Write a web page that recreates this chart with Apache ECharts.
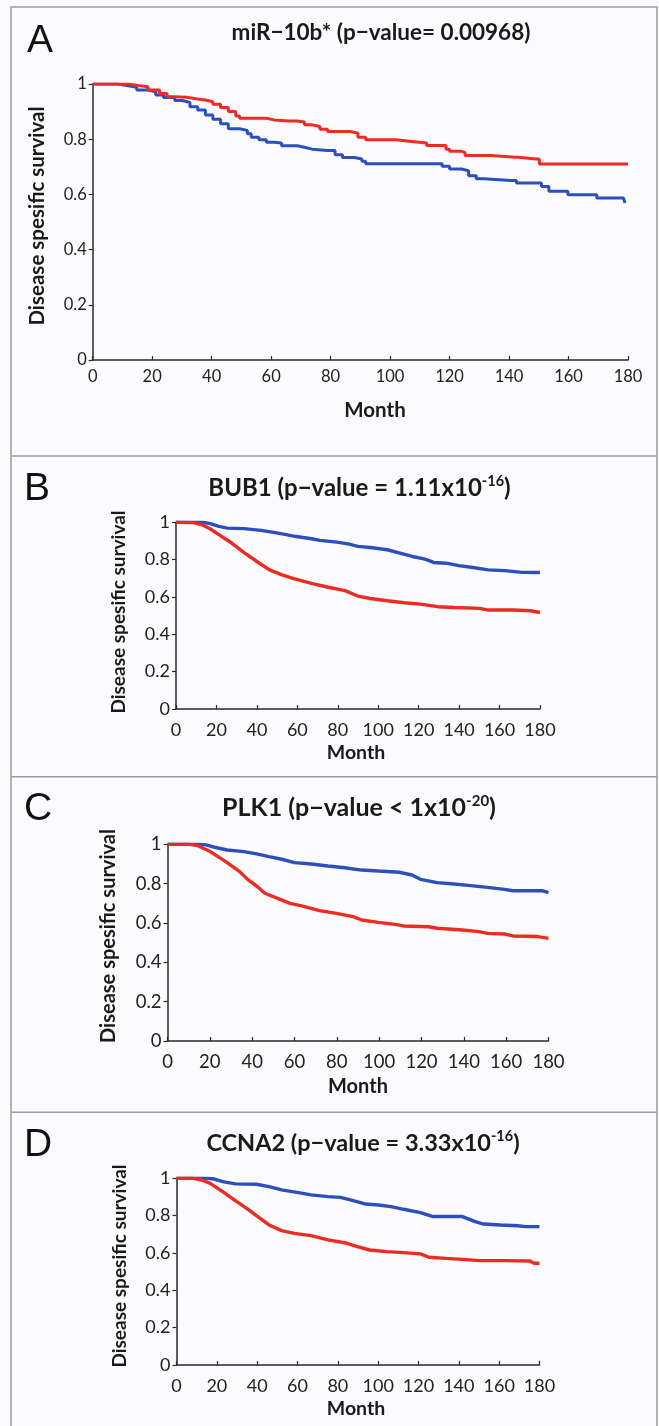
<!DOCTYPE html>
<html>
<head>
<meta charset="utf-8">
<script src="https://cdn.jsdelivr.net/npm/echarts@6/dist/echarts.min.js"></script>
<style>
html,body{margin:0;padding:0;background:#fbfbfd;}
#c{width:659px;height:1426px;}
</style>
</head>
<body>
<div id="c"></div>
<script>
// ---- Tick labels ----
const xTicks = [0, 20, 40, 60, 80, 100, 120, 140, 160, 180];
const yTicks = [0, 0.2, 0.4, 0.6, 0.8, 1];

// ---- Panel A: miR-10b* ----
const monthsA_red = [0, 12, 15, 18.6, 22.5, 25, 27.6, 31.5, 35.3, 37.9, 40.4, 43, 45.6, 48.1, 49.4, 54.6, 58.4, 61, 66, 68.7, 71.2, 73.8, 76.4, 79, 84, 86.7, 89.2, 91.8, 99.5, 102, 107.2, 112.3, 117.5, 118.8, 120, 124, 125.2, 133, 134, 142, 143, 149, 150.2, 180];
const survA_red = [1, 0.995, 0.99, 0.978, 0.966, 0.954, 0.952, 0.946, 0.942, 0.936, 0.927, 0.915, 0.9, 0.884, 0.876, 0.876, 0.870, 0.866, 0.866, 0.862, 0.852, 0.846, 0.836, 0.828, 0.828, 0.822, 0.807, 0.798, 0.798, 0.792, 0.786, 0.777, 0.777, 0.764, 0.756, 0.752, 0.741, 0.741, 0.735, 0.735, 0.728, 0.728, 0.71, 0.71];
const monthsA_blue = [0, 6, 8.3, 11, 14.8, 18.6, 21.2, 23.8, 27.6, 30.2, 32.7, 35.3, 37.9, 40.4, 43, 45.6, 49.4, 52, 53.3, 55.9, 58.4, 61, 63.5, 68.7, 71.2, 73.8, 79, 81.5, 84, 88, 90.5, 91.8, 114.3, 117.5, 120, 124, 126.4, 129, 131.6, 140.6, 142.5, 148.3, 150.9, 153.4, 158.5, 159.8, 168.2, 169.5, 178.5, 179];
const survA_blue = [1, 1, 0.995, 0.988, 0.978, 0.972, 0.96, 0.951, 0.94, 0.933, 0.918, 0.906, 0.888, 0.872, 0.856, 0.838, 0.832, 0.82, 0.807, 0.798, 0.789, 0.786, 0.776, 0.771, 0.764, 0.759, 0.759, 0.744, 0.734, 0.728, 0.72, 0.711, 0.711, 0.702, 0.692, 0.686, 0.668, 0.657, 0.65, 0.65, 0.641, 0.641, 0.629, 0.611, 0.611, 0.599, 0.599, 0.587, 0.587, 0.569];

// ---- Panel B: BUB1 ----
const monthsB_blue = [0, 12.9, 17, 21.2, 25.4, 33.7, 42, 48.3, 54.5, 58.7, 67, 71.2, 79.5, 85.7, 89.9, 96.1, 104.5, 110.7, 116.9, 123.2, 127.4, 133.6, 139.8, 146, 154.4, 162.7, 171, 180];
const survB_blue = [1, 1, 0.993, 0.978, 0.969, 0.966, 0.957, 0.946, 0.934, 0.925, 0.912, 0.903, 0.894, 0.883, 0.871, 0.865, 0.853, 0.835, 0.817, 0.803, 0.785, 0.781, 0.768, 0.759, 0.745, 0.741, 0.732, 0.731];
const monthsB_red = [0, 8.7, 12.9, 17, 21.2, 27.5, 33.7, 40, 46.2, 52.4, 58.7, 67, 75.3, 83.6, 89.9, 96.1, 104.5, 112.8, 121, 129.4, 137.7, 150.2, 154.4, 166.9, 175.2, 180];
const survB_red = [1, 0.998, 0.987, 0.964, 0.934, 0.889, 0.838, 0.79, 0.745, 0.718, 0.697, 0.673, 0.652, 0.634, 0.605, 0.592, 0.58, 0.569, 0.562, 0.548, 0.544, 0.539, 0.53, 0.53, 0.526, 0.517];

// ---- Panel C: PLK1 ----
const monthsC_blue = [0, 14.3, 18.3, 22.2, 28.2, 36.1, 42.1, 48, 54, 60, 67.9, 75.8, 83.7, 91.7, 99.6, 109.5, 115.5, 119.5, 127.4, 135.3, 143.3, 151.2, 159.2, 163.2, 177, 180];
const survC_blue = [1, 1, 0.997, 0.985, 0.971, 0.963, 0.951, 0.937, 0.924, 0.907, 0.9, 0.89, 0.881, 0.869, 0.864, 0.858, 0.844, 0.822, 0.805, 0.798, 0.79, 0.781, 0.771, 0.764, 0.764, 0.754];
const monthsC_red = [0, 10.3, 14.3, 20.2, 28.2, 34.1, 38.1, 42.1, 46, 52, 57.9, 63.9, 71.8, 79.8, 87.7, 91.7, 99.6, 107.5, 111.5, 123.4, 127.4, 139.3, 147.2, 151.2, 159.2, 163.2, 175, 180];
const survC_red = [1, 1, 0.993, 0.963, 0.907, 0.861, 0.819, 0.788, 0.751, 0.725, 0.7, 0.686, 0.663, 0.649, 0.632, 0.615, 0.603, 0.593, 0.585, 0.581, 0.573, 0.564, 0.556, 0.547, 0.544, 0.534, 0.531, 0.522];

// ---- Panel D: CCNA2 ----
const monthsD_blue = [0, 14.6, 18.8, 22.9, 29.2, 39.6, 45.9, 52.1, 60.5, 66.7, 75.1, 81.3, 87.6, 93.9, 100.1, 106.4, 112.6, 121, 127.2, 141.8, 148.1, 152.3, 160.6, 169, 173.1, 180];
const survD_blue = [1, 1, 0.996, 0.982, 0.97, 0.968, 0.955, 0.938, 0.923, 0.911, 0.902, 0.898, 0.88, 0.862, 0.857, 0.848, 0.834, 0.816, 0.795, 0.795, 0.768, 0.755, 0.75, 0.746, 0.741, 0.741];
const monthsD_red = [0, 8.3, 12.5, 16.7, 22.9, 29.2, 35.5, 39.6, 45.9, 52.1, 58.4, 66.7, 75.1, 83.4, 89.7, 95.9, 104.3, 112.6, 121, 125.2, 133.5, 141.8, 150.2, 162.7, 175.2, 177.3, 180];
const survD_red = [1, 1, 0.991, 0.973, 0.929, 0.88, 0.834, 0.8, 0.75, 0.72, 0.705, 0.693, 0.67, 0.655, 0.634, 0.616, 0.607, 0.602, 0.595, 0.577, 0.571, 0.566, 0.559, 0.559, 0.557, 0.545, 0.545];

// ---- Texts ----
const panelLetters = ['A', 'B', 'C', 'D'];
const titleA = 'miR\u221210b* (p\u2212value= 0.00968)';
const titleB = ['BUB1 (p\u2212value = 1.11x10', '-16', ')'];
const titleC = ['PLK1 (p\u2212value < 1x10', '-20', ')'];
const titleD = ['CCNA2 (p\u2212value = 3.33x10', '-16', ')'];
const yName = 'Disease spesific survival';
const xName = 'Month';

// ---- Layout (styling, not data) ----
const RED = '#ee2b23', BLUE = '#2d4fbe';
const grids = [
  {left: 92.7, top: 84, width: 535.3, height: 276},
  {left: 176, top: 522.3, width: 364, height: 186.7},
  {left: 167.5, top: 844.3, width: 381, height: 196.7},
  {left: 176.5, top: 1178.3, width: 363, height: 186.7}
];
const tickFont = [16.5, 18, 18.5, 18];
const pairs = (xs, ys) => xs.map((x, i) => [x, ys[i]]);
const seriesData = [
  [pairs(monthsA_red, survA_red), pairs(monthsA_blue, survA_blue)],
  [pairs(monthsB_red, survB_red), pairs(monthsB_blue, survB_blue)],
  [pairs(monthsC_red, survC_red), pairs(monthsC_blue, survC_blue)],
  [pairs(monthsD_red, survD_red), pairs(monthsD_blue, survD_blue)]
];

const xAxes = [], yAxes = [], series = [];
grids.forEach((g, i) => {
  xAxes.push({
    type: 'value', gridIndex: i, min: xTicks[0], max: xTicks[xTicks.length - 1], interval: xTicks[1] - xTicks[0],
    axisLine: {show: true, lineStyle: {color: '#2a2a2a', width: 1.5}},
    axisTick: {show: true, inside: true, length: 4, lineStyle: {color: '#2a2a2a', width: 1.2}},
    axisLabel: {color: '#222', fontFamily: 'Lato', fontSize: tickFont[i], margin: i === 0 ? 8 : 12},
    splitLine: {show: false}
  });
  yAxes.push({
    type: 'value', gridIndex: i, min: yTicks[0], max: yTicks[yTicks.length - 1], interval: yTicks[1] - yTicks[0],
    axisLine: {show: true, lineStyle: {color: '#2a2a2a', width: 1.5}},
    axisTick: {show: true, inside: false, length: 4, lineStyle: {color: '#2a2a2a', width: 1.2}},
    axisLabel: {color: '#222', fontFamily: 'Lato', fontSize: tickFont[i], margin: 6},
    splitLine: {show: false}
  });
  const step = i === 0 ? 'end' : false;
  [RED, BLUE].forEach((col, k) => {
    series.push({
      type: 'line', xAxisIndex: i, yAxisIndex: i, data: seriesData[i][k], step: step,
      showSymbol: false, symbol: 'none', silent: true, animation: false,
      lineStyle: {color: col, width: i === 0 ? 3 : 3.4}, z: k === 0 ? 3 : 2
    });
  });
});

const letterPos = [[27, 41], [24, 489], [24, 809], [24, 1145]];
const titlePos = [[381, 33], [359.5, 488], [359, 808], [363, 1143]];
const yNamePos = [[37, 216], [119, 612], [109, 936], [120, 1266]];
const xNamePos = [[375, 410], [356, 752.7], [358, 1086.7], [356, 1408.3]];
const titleSize = [22.5, 24, 25, 23.5];
const supSize = [0, 14.5, 15, 14.5];
const yNameSize = [20.5, 19, 20, 19];
const xNameSize = [20.5, 19.5, 20, 19.5];

const graphic = [];
graphic.push({type: 'rect', shape: {x: 11, y: 7, width: 646, height: 1440}, style: {fill: null, stroke: '#9c9c9c', lineWidth: 1.5}, silent: true});
[456, 776.7, 1112.3].forEach(y => graphic.push({type: 'line', shape: {x1: 11, y1: y, x2: 657, y2: y}, style: {stroke: '#9c9c9c', lineWidth: 1.5}, silent: true}));
panelLetters.forEach((L, i) => graphic.push({type: 'text', x: letterPos[i][0], y: letterPos[i][1], style: {text: L, font: '39px "Liberation Sans"', fill: '#111', textAlign: 'left', textVerticalAlign: 'middle'}}));
graphic.push({type: 'text', x: titlePos[0][0], y: titlePos[0][1], style: {text: titleA, font: 'bold ' + titleSize[0] + 'px Lato', fill: '#1a1a1a', textAlign: 'center', textVerticalAlign: 'middle'}});
[titleB, titleC, titleD].forEach((t, j) => {
  const i = j + 1;
  graphic.push({type: 'text', x: titlePos[i][0], y: titlePos[i][1], style: {
    text: '{m|' + t[0] + '}{s|' + t[1] + '}{m|' + t[2] + '}',
    textAlign: 'center', textVerticalAlign: 'middle',
    rich: {
      m: {fontFamily: 'Lato', fontWeight: 'bold', fontSize: titleSize[i], fill: '#1a1a1a', lineHeight: 28, verticalAlign: 'middle'},
      s: {fontFamily: 'Lato', fontWeight: 'bold', fontSize: supSize[i], fill: '#1a1a1a', lineHeight: 14, verticalAlign: 'top'}
    }
  }});
});
yNamePos.forEach((p, i) => graphic.push({type: 'text', x: p[0], y: p[1], rotation: Math.PI / 2, style: {text: yName, font: 'bold ' + yNameSize[i] + 'px Lato', fill: '#1a1a1a', textAlign: 'center', textVerticalAlign: 'middle'}}));
xNamePos.forEach((p, i) => graphic.push({type: 'text', x: p[0], y: p[1], style: {text: xName, font: 'bold ' + xNameSize[i] + 'px Lato', fill: '#1a1a1a', textAlign: 'center', textVerticalAlign: 'middle'}}));

const chart = echarts.init(document.getElementById('c'), null, {renderer: 'canvas'});
chart.setOption({
  backgroundColor: '#fbfbfd',
  animation: false,
  grid: grids.map(g => Object.assign({containLabel: false}, g)),
  xAxis: xAxes,
  yAxis: yAxes,
  series: series,
  graphic: graphic
});
</script>
</body>
</html>
